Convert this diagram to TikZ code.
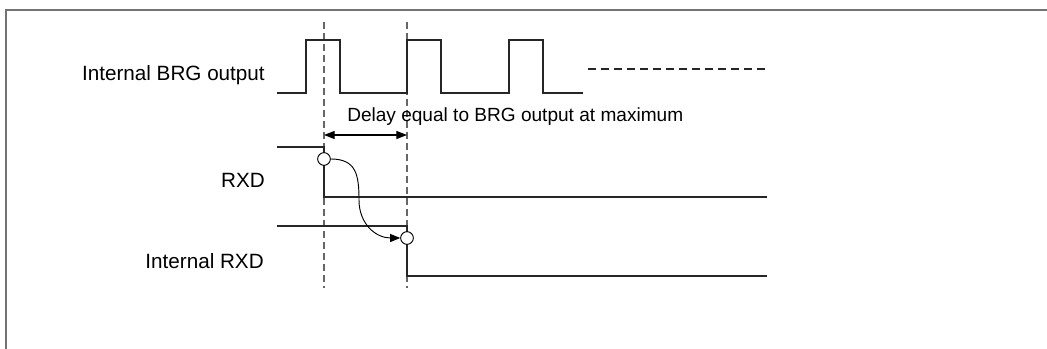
\documentclass[tikz,border=0pt]{standalone}
\usepackage{fontspec}
\setmainfont{Liberation Sans}
\usetikzlibrary{arrows.meta}

\begin{document}
\begin{tikzpicture}[x=0.75pt, y=-0.75pt, line cap=butt, line join=miter,
  wave/.style={line width=0.9pt, black!85},
  guide/.style={line width=0.8pt, black!60, dash pattern=on 5.25pt off 3pt},
  tick/.style={circle, draw, fill=white, line width=0.7pt, inner sep=0pt, minimum size=9.5pt},
  lbl/.style={font=\fontsize{15.5}{18}\selectfont, inner sep=0pt}]

% ----------------------------
% CANVAS AND FRAME
% ----------------------------
\useasboundingbox (0,0) rectangle (1047,349);
\draw[line width=1.5pt, black!55] (6,349) -- (6,10) -- (1047,10);

% ----------------------------
% PARAMETERS
% ----------------------------
\def\xA{277}     % start of waveforms
\def\tA{324}     % first guide line (RXD falls)
\def\tB{407}     % second guide line (internal RXD falls)
\def\xE{767}     % end of waveforms

% ----------------------------
% GUIDE LINES
% ----------------------------
\draw[guide] (\tA,22) -- (\tA,288);
\draw[guide] (\tB,22) -- (\tB,288);

% ----------------------------
% INTERNAL BRG OUTPUT
% ----------------------------
\draw[wave] (\xA,93) -- (306,93) -- (306,40) -- (340,40) -- (340,93)
  -- (\tB,93) -- (\tB,40) -- (441,40) -- (441,93)
  -- (509,93) -- (509,40) -- (543,40) -- (543,93) -- (583,93);
\draw[wave, dash pattern=on 6pt off 3.75pt] (588,69) -- (\xE,69);
\node[lbl, anchor=base east] (brg) at (265,81) {Internal BRG output};

% ----------------------------
% DELAY
% ----------------------------
\coordinate (dl) at (\tA,135);
\coordinate (dr) at (\tB,135);
\draw[line width=0.9pt, {Triangle[length=8pt,width=6pt]}-{Triangle[length=8pt,width=6pt]}] (dl) -- (dr);
\node[lbl, font=\fontsize{14.3}{17}\selectfont, anchor=base west] (delay) at (347,122)
  {Delay equal to BRG output at maximum};

% ----------------------------
% RXD
% ----------------------------
\draw[wave] (\xA,147) -- (\tA,147) -- (\tA,197) -- (\xE,197);
\node[lbl, anchor=base east] (rxd) at (265,188) {RXD};
\node[tick] (c1) at (\tA,159) {};

% ----------------------------
% INTERNAL RXD
% ----------------------------
\draw[wave] (\xA,226) -- (\tB,226) -- (\tB,276) -- (\xE,276);
\node[lbl, anchor=base east] (irxd) at (264,269) {Internal RXD};
\node[tick] (c2) at (\tB,238) {};

% edge from RXD to internal RXD
\draw[line width=0.7pt, -{Triangle[length=7.5pt,width=6pt]}]
  (c1.east) to[out=0, in=90, looseness=1.3] (359,200) to[out=-90, in=180, looseness=1.1] (c2.west);

\end{tikzpicture}
\end{document}
